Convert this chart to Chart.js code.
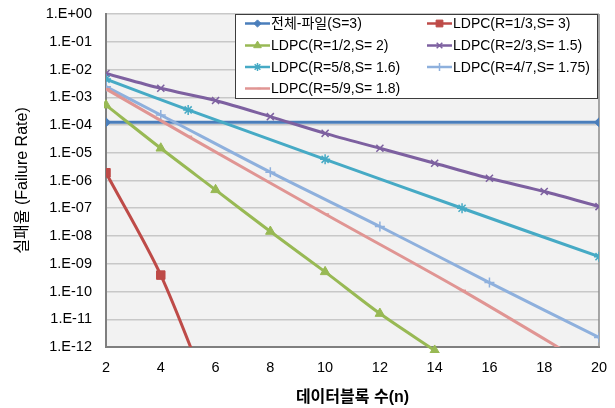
<!DOCTYPE html>
<html>
<head>
<meta charset="utf-8">
<script src="https://cdn.jsdelivr.net/npm/chart.js@4.4.0/dist/chart.umd.min.js"></script>
<style>
  html, body { margin: 0; padding: 0; background: #fff; }
  canvas { display: block; }
</style>
</head>
<body>
<canvas id="chart" width="615" height="408"></canvas>
<script>
// series data (x = data blocks n, y = failure rate)
const seriesLabels = ['전체-파일(S=3)', 'LDPC(R=1/3,S= 3)', 'LDPC(R=1/2,S= 2)', 'LDPC(R=2/3,S= 1.5)',
                      'LDPC(R=5/8,S= 1.6)', 'LDPC(R=4/7,S= 1.75)', 'LDPC(R=5/9,S= 1.8)'];

const fullFileX = [2, 20];
const fullFileY = [1.25e-4, 1.25e-4];
const r13X = [2, 4, 6];
const r13Y = [1.9e-6, 3.9e-10, 5e-15];
const r12X = [2, 4, 6, 8, 10, 12, 14];
const r12Y = [5.2e-4, 1.45e-5, 4.6e-7, 1.45e-8, 5.1e-10, 1.6e-11, 7.5e-13];
const r23X = [2, 4, 6, 8, 10, 12, 14, 16, 18, 20];
const r23Y = [7.2e-3, 2.1e-3, 7.6e-4, 2.0e-4, 5.0e-5, 1.45e-5, 4.2e-6, 1.2e-6, 4.0e-7, 1.15e-7];
const r58X = [2, 5, 10, 15, 20];
const r58Y = [4.5e-3, 3.5e-4, 5.8e-6, 1.0e-7, 1.8e-9];
const r47X = [2, 4, 8, 12, 16, 20];
const r47Y = [2.4e-3, 2.3e-4, 2.0e-6, 2.2e-8, 2.1e-10, 2.2e-12];
const r59X = [2, 5, 10, 15, 20];
const r59Y = [2.0e-3, 3.9e-5, 6.2e-8, 1.1e-10, 1.3e-13];

const xTicks = [2, 4, 6, 8, 10, 12, 14, 16, 18, 20];
const yTickValues = [1e-12, 1e-11, 1e-10, 1e-9, 1e-8, 1e-7, 1e-6, 1e-5, 1e-4, 1e-3, 1e-2, 1e-1, 1];
const yTickLabels = ['1.E-12', '1.E-11', '1.E-10', '1.E-09', '1.E-08', '1.E-07', '1.E-06',
                     '1.E-05', '1.E-04', '1.E-03', '1.E-02', '1.E-01', '1.E+00'];

const FONT = '"Liberation Sans", "Noto Sans CJK KR", Arial, sans-serif';
Chart.defaults.font.family = FONT;
Chart.defaults.color = '#000';

function pts(xs, ys){ return xs.map((x, i) => ({ x: x, y: ys[i] })); }

const styles = [
  { color: '#4A7EBB', point: 'rectRot',  r: 4.5, bw: 1 },
  { color: '#BE4B48', point: 'rect',     r: 6,   bw: 1 },
  { color: '#98B954', point: 'triangle', r: 5.5, bw: 1 },
  { color: '#7D60A0', point: 'crossRot', r: 5,   bw: 1.5 },
  { color: '#46AAC5', point: 'star',     r: 5,   bw: 1.5 },
  { color: '#8EB0DD', point: 'cross',    r: 5,   bw: 1.5 },
  { color: '#E09593', point: 'dash',     r: 4,   bw: 1.5 }
];
const seriesData = [pts(fullFileX, fullFileY), pts(r13X, r13Y), pts(r12X, r12Y), pts(r23X, r23Y),
                    pts(r58X, r58Y), pts(r47X, r47Y), pts(r59X, r59Y)];

const datasets = seriesData.map((d, i) => ({
  label: seriesLabels[i],
  data: d,
  showLine: true,
  borderColor: styles[i].color,
  backgroundColor: styles[i].color,
  borderWidth: 3,
  tension: 0.3,
  pointStyle: styles[i].point,
  pointRadius: styles[i].r,
  pointBorderWidth: styles[i].bw,
  pointBackgroundColor: styles[i].color,
  pointBorderColor: styles[i].color,
  order: 10 - i,
  clip: i === 2 ? { left: 2, top: 2, right: 2, bottom: 6 } : undefined
}));

// grey plot area + right frame line
const plotBg = {
  id: 'plotBg',
  beforeDraw(chart){
    const { ctx, chartArea: a } = chart;
    ctx.save();
    ctx.fillStyle = '#f2f2f2';
    ctx.fillRect(a.left, a.top, a.right - a.left, a.bottom - a.top);
    ctx.restore();
  },
  beforeDatasetsDraw(chart){
    const { ctx, chartArea: a } = chart;
    ctx.save();
    ctx.strokeStyle = '#8a8a8a';
    ctx.lineWidth = 1.5;
    ctx.beginPath();
    ctx.moveTo(a.right, a.top);
    ctx.lineTo(a.right, a.bottom);
    ctx.stroke();
    ctx.restore();
  }
};

// boxed two-column legend inside the plot, like the Excel one
const boxLegend = {
  id: 'boxLegend',
  afterDraw(chart){
    const ctx = chart.ctx;
    const L = 235, T = 14, R = 598, B = 99;
    const rows = [23.5, 45.5, 67, 88.5];
    ctx.save();
    ctx.fillStyle = '#fff';
    ctx.fillRect(L, T, R - L, B - T);
    ctx.strokeStyle = '#3c3c3c';
    ctx.lineWidth = 1;
    ctx.strokeRect(L + 0.5, T + 0.5, R - L - 1, B - T - 1);
    chart.data.datasets.forEach((ds, i) => {
      const x0 = (i % 2) ? 427 : 245;
      const y = rows[Math.floor(i / 2)];
      ctx.strokeStyle = ds.borderColor;
      ctx.lineWidth = 2.5;
      ctx.beginPath();
      ctx.moveTo(x0, y);
      ctx.lineTo(x0 + 25, y);
      ctx.stroke();
      ctx.fillStyle = ds.pointBackgroundColor;
      ctx.strokeStyle = ds.pointBorderColor;
      ctx.lineWidth = ds.pointBorderWidth;
      Chart.helpers.drawPoint(ctx, { pointStyle: ds.pointStyle, radius: ds.pointRadius * 0.8,
                                     borderWidth: ds.pointBorderWidth, rotation: 0 }, x0 + 12.5, y);
      ctx.fillStyle = '#000';
      ctx.font = '14px ' + FONT;
      ctx.textBaseline = 'middle';
      ctx.textAlign = 'left';
      ctx.fillText(ds.label, x0 + 26, y + 1);
    });
    ctx.restore();
  }
};

new Chart(document.getElementById('chart'), {
  type: 'scatter',
  data: { datasets },
  plugins: [plotBg, boxLegend],
  options: {
    responsive: false,
    animation: false,
    devicePixelRatio: 1,
    layout: { padding: { top: 14, right: 16, left: 0, bottom: 0 } },
    plugins: { legend: { display: false }, tooltip: { enabled: false } },
    scales: {
      x: {
        type: 'linear',
        min: 2, max: 20,
        afterBuildTicks: s => { s.ticks = xTicks.map(v => ({ value: v })); },
        afterFit: s => { s.height = 61; s.paddingLeft = 0; s.paddingRight = 0; },
        grid: { display: false, drawTicks: false },
        border: { display: true, color: '#7f7f7f', width: 2 },
        ticks: { padding: 12, font: { size: 14.5 }, color: '#000' },
        title: { display: true, text: '데이터블록 수(n)', font: { size: 16, weight: 'bold' },
                 color: '#000', padding: { top: 0, bottom: 1 } }
      },
      y: {
        type: 'logarithmic',
        min: 1e-12, max: 1,
        afterBuildTicks: s => { s.ticks = yTickValues.map(v => ({ value: v })); },
        afterFit: s => { s.width = 106; s.paddingTop = 0; s.paddingBottom = 0; },
        grid: { color: '#c8c8c8', lineWidth: 1.5, drawTicks: false },
        border: { display: true, color: '#7f7f7f', width: 2 },
        ticks: {
          padding: 14,
          font: { size: 14.5 },
          color: '#000',
          callback: (v, i) => yTickLabels[i]
        },
        title: { display: true, text: '실패율 (Failure Rate)', font: { size: 16 },
                 color: '#000', padding: { top: 13, bottom: 0 } }
      }
    }
  }
});
</script>
</body>
</html>
